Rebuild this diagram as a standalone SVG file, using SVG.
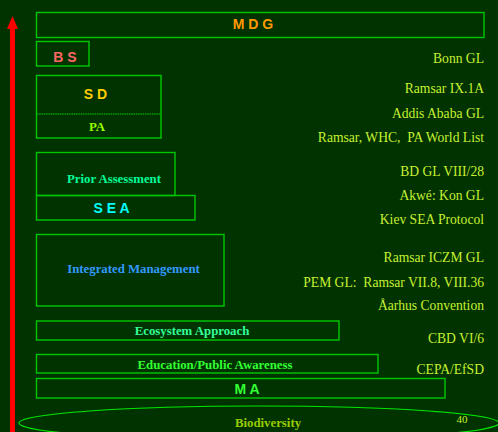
<svg xmlns="http://www.w3.org/2000/svg" width="498" height="432" viewBox="0 0 498 432">
<style>
.box{fill:none;stroke:#00c800;stroke-width:1.4}
.ref{font-family:"Liberation Serif",serif;font-size:13.6px;fill:#c8f032;text-anchor:end}
.lbl{font-family:"Liberation Serif",serif;font-weight:bold;font-size:12.8px;text-anchor:middle}
.cap{font-family:"Liberation Sans",Arial,sans-serif;font-weight:bold;font-size:14px;text-anchor:middle}
</style>
<rect width="498" height="432" fill="#003300"/>
<g id="axis">
<rect x="10" y="27" width="5" height="405" fill="#ff0000"/>
<polygon points="12.5,16 18,29 7,29" fill="#ff0000"/>
</g>
<g id="biodiversity">
<ellipse cx="259" cy="423" rx="240" ry="17" fill="none" stroke="#00e600" stroke-width="1.2"/>
<text x="268" y="427" class="lbl" fill="#99cc00">Biodiversity</text>
</g>
<g id="mdg">
<rect class="box" x="36.5" y="12.5" width="447.5" height="25"/>
<text x="253" y="29" class="cap" fill="#ff9900">M D G</text>
</g>
<g id="bs">
<rect class="box" x="36.5" y="41.5" width="52.5" height="24.5"/>
<text x="65" y="62" class="cap" fill="#ff6666">B S</text>
</g>
<g id="sd">
<rect class="box" x="36.5" y="75.5" width="124.5" height="62.5"/>
<text x="95.5" y="99" class="cap" fill="#ffcc00">S D</text>
</g>
<g id="pa">
<line x1="37" y1="114" x2="160" y2="114" stroke="#00a000" stroke-width="1.4" stroke-dasharray="1.5,0.8"/>
<text x="97" y="130.5" class="lbl" fill="#99ff00" font-size="13px">PA</text>
</g>
<g id="prior">
<rect class="box" x="36.5" y="152.5" width="138.5" height="43"/>
<text x="114" y="183" class="lbl" fill="#00ff99">Prior Assessment</text>
</g>
<g id="sea">
<rect class="box" x="36.5" y="195.5" width="158.5" height="24.5"/>
<text x="111.5" y="213" class="cap" fill="#00ffff">S E A</text>
</g>
<g id="im">
<rect class="box" x="36.5" y="234.5" width="187.5" height="71.5"/>
<text x="133.5" y="273" class="lbl" fill="#3399ff">Integrated Management</text>
</g>
<g id="eco">
<rect class="box" x="36.5" y="321" width="302.5" height="19"/>
<text x="192" y="335" class="lbl" fill="#33ff99">Ecosystem Approach</text>
</g>
<g id="edu">
<rect class="box" x="36.5" y="354.5" width="341.5" height="18.5"/>
<text x="215" y="369" class="lbl" fill="#33ff33" font-size="13.4px">Education/Public Awareness</text>
</g>
<g id="ma">
<rect class="box" x="36.5" y="378.5" width="408.5" height="19.5"/>
<text x="247" y="394" class="cap" fill="#33ff33">M A</text>
</g>
<g id="references">
<text x="484" y="63" class="ref">Bonn GL</text>
<text x="484" y="93" class="ref">Ramsar IX.1A</text>
<text x="484" y="118" class="ref">Addis Ababa GL</text>
<text x="484" y="142" class="ref" xml:space="preserve">Ramsar, WHC,  PA World List</text>
<text x="484" y="176" class="ref">BD GL VIII/28</text>
<text x="484" y="200" class="ref">Akwé: Kon GL</text>
<text x="484" y="224" class="ref">Kiev SEA Protocol</text>
<text x="484" y="262" class="ref">Ramsar ICZM GL</text>
<text x="484" y="287" class="ref" xml:space="preserve">PEM GL:  Ramsar VII.8, VIII.36</text>
<text x="484" y="310" class="ref">Åarhus Convention</text>
<text x="484" y="343" class="ref">CBD VI/6</text>
<text x="484" y="374" class="ref">CEPA/EfSD</text>
</g>
<g id="page">
<text x="462" y="423" font-family="Liberation Serif,serif" font-size="11px" fill="#c8f032" text-anchor="middle">40</text>
</g>
<g id="connectors"/>
</svg>
